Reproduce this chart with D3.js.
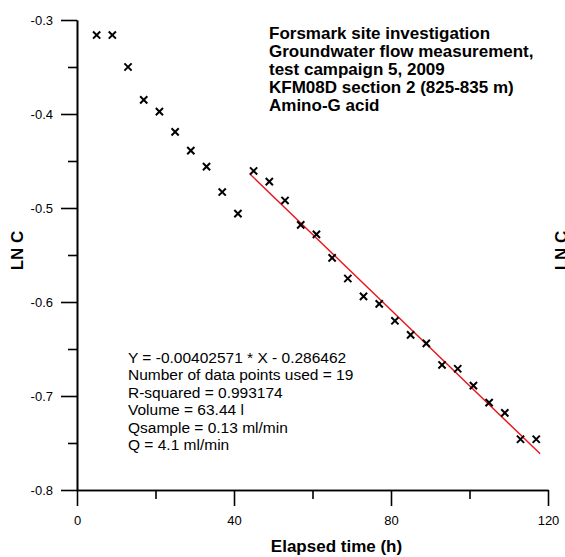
<!DOCTYPE html>
<html>
<head>
<meta charset="utf-8">
<script src="https://cdn.jsdelivr.net/npm/d3@7"></script>
<style>
  html, body { margin: 0; padding: 0; background: #fff; }
  svg { display: block; font-family: "Liberation Sans", Arial, sans-serif; }
</style>
</head>
<body>
<svg id="chart" width="565" height="557"></svg>
<script>
// ---- data ----
const elapsedTime = [5, 9, 13, 17, 21, 25, 29, 33, 37, 41, 45, 49, 53, 57, 61, 65, 69, 73, 77, 81, 85, 89, 93, 97, 101, 105, 109, 113, 117];
const lnC = [-0.316, -0.316, -0.350, -0.385, -0.3975, -0.419, -0.439, -0.456, -0.483, -0.506,
             -0.4606, -0.472, -0.492, -0.518, -0.528, -0.553, -0.575, -0.594, -0.602, -0.620,
             -0.635, -0.644, -0.667, -0.671, -0.689, -0.707, -0.718, -0.746, -0.746];
const fitSlope = -0.00402571;
const fitIntercept = -0.286462;
const fitRange = [44, 118];
const xTicks = [0, 40, 80, 120];
const xMinorTicks = [20, 60, 100];
const yTicks = [-0.8, -0.7, -0.6, -0.5, -0.4, -0.3];
const yMinorTicks = [-0.75, -0.65, -0.55, -0.45, -0.35];
const titleLines = ["Forsmark site investigation", "Groundwater flow measurement,", "test campaign 5, 2009", "KFM08D section 2 (825-835 m)", "Amino-G acid"];
const infoLines = ["Y = -0.00402571 * X - 0.286462", "Number of data points used = 19", "R-squared = 0.993174", "Volume = 63.44 l", "Qsample = 0.13 ml/min", "Q = 4.1 ml/min"];

const svg = d3.select("#chart");
const x = d3.scaleLinear().domain([0, 120]).range([77, 548]);
const y = d3.scaleLinear().domain([-0.8, -0.3]).range([490, 20]);
const hyphenFmt = f => (d => f(d).replace("\u2212", "-"));

function styleAxis(g) {
  g.selectAll("path.domain").attr("stroke", "#000").attr("stroke-width", 1.6);
  g.selectAll(".tick line").attr("stroke", "#000").attr("stroke-width", 1.6);
  g.selectAll(".tick text").attr("fill", "#000").style("font-size", "13px")
    .style("font-family", "'Liberation Sans', Arial, sans-serif");
}

// minor ticks
svg.append("g").attr("transform", `translate(${x(0)},0)`)
  .call(d3.axisLeft(y).tickValues(yMinorTicks).tickSize(9).tickSizeOuter(0).tickFormat(""))
  .call(styleAxis);
svg.append("g").attr("transform", `translate(0,${y(-0.8)})`)
  .call(d3.axisBottom(x).tickValues(xMinorTicks).tickSize(9).tickSizeOuter(0).tickFormat(""))
  .call(styleAxis);
// major ticks
svg.append("g").attr("transform", `translate(${x(0)},0)`)
  .call(d3.axisLeft(y).tickValues(yTicks).tickSize(16).tickSizeOuter(0).tickPadding(8).tickFormat(hyphenFmt(d3.format(".1f"))))
  .call(styleAxis);
svg.append("g").attr("transform", `translate(0,${y(-0.8)})`)
  .call(d3.axisBottom(x).tickValues(xTicks).tickSize(16).tickSizeOuter(0).tickPadding(10).tickFormat(d3.format("d")))
  .call(styleAxis);

// fit line
const line = d3.line().x(d => x(d)).y(d => y(fitSlope * d + fitIntercept));
svg.append("path").datum(fitRange).attr("d", line)
  .attr("fill", "none").attr("stroke", "#e8141b").attr("stroke-width", 1.4);

// markers (X)
const pts = elapsedTime.map((t, i) => [t, lnC[i]]);
const h = 3.6;
svg.append("g").selectAll("path").data(pts).join("path")
  .attr("d", d => {
    const cx = x(d[0]), cy = y(d[1]);
    return `M${cx - h},${cy - h}L${cx + h},${cy + h}M${cx - h},${cy + h}L${cx + h},${cy - h}`;
  })
  .attr("stroke", "#000").attr("stroke-width", 2).attr("fill", "none");

// title block
svg.append("text").attr("x", 269).attr("y", 39)
  .style("font-size", "17px").style("font-weight", "bold").attr("fill", "#000")
  .selectAll("tspan").data(titleLines).join("tspan")
  .attr("x", 269).attr("y", (d, i) => 39 + i * 18.1).text(d => d);

// info block
svg.append("text")
  .style("font-size", "15.5px").attr("fill", "#000")
  .selectAll("tspan").data(infoLines).join("tspan")
  .attr("x", 128).attr("y", (d, i) => 363 + i * 17.4).text(d => d);

// axis titles
svg.append("text").attr("x", 336.5).attr("y", 552).attr("text-anchor", "middle")
  .style("font-size", "17px").style("font-weight", "bold").text("Elapsed time (h)");
svg.append("text").attr("transform", "translate(22.5,250.5) rotate(-90)").attr("text-anchor", "middle")
  .style("font-size", "17px").style("font-weight", "bold").text("LN C");
// clipped label of the neighbouring chart at the right edge (cut off in the reference too)
svg.append("text").attr("transform", "translate(567,250.5) rotate(-90)").attr("text-anchor", "middle")
  .style("font-size", "17px").style("font-weight", "bold").text("LN C");
</script>
</body>
</html>
